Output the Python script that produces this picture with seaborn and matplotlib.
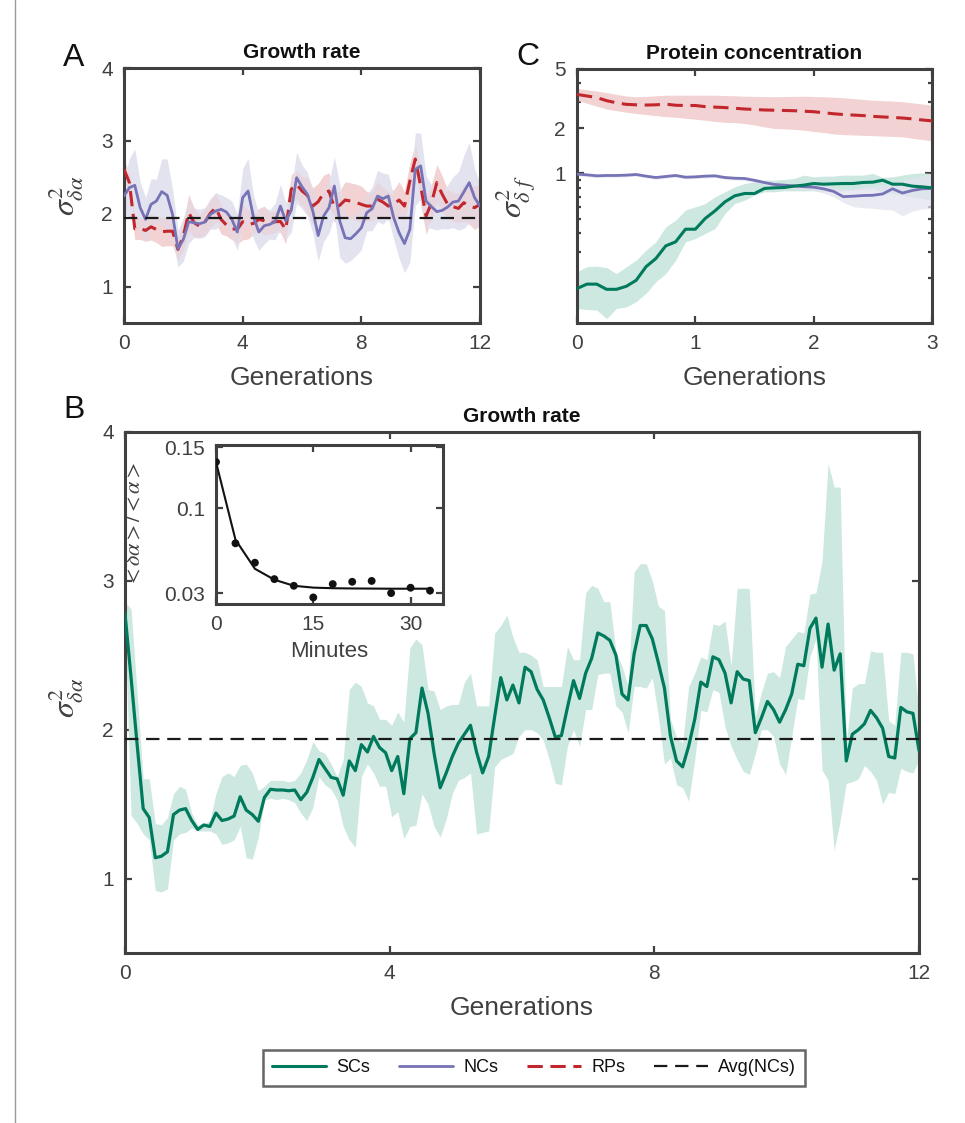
import numpy as np
import matplotlib
matplotlib.use('Agg')
import matplotlib.pyplot as plt
import seaborn as sns
from matplotlib.lines import Line2D
from matplotlib.ticker import FixedLocator, FixedFormatter, NullFormatter

# ---------------- data ----------------
AVG_NC = 1.94

# Panel B: growth-rate variance, SCs
b_gen = np.linspace(0, 12, 132)
b_sc_mean = [2.78, 2.35, 1.90,
             1.47, 1.41, 1.14, 1.15, 1.18, 1.43, 1.46, 1.47, 1.39, 1.33, 1.36, 1.35, 1.44, 1.39, 1.40, 1.42,
             1.55, 1.46, 1.43, 1.385, 1.545, 1.60, 1.595, 1.595, 1.59, 1.595, 1.53, 1.58, 1.68, 1.80, 1.74,
             1.68, 1.67, 1.56, 1.79, 1.725, 1.90, 1.85, 1.955, 1.88, 1.845,
             1.725, 1.82, 1.57, 1.94, 1.98, 2.28, 2.11, 1.84, 1.61, 1.71, 1.82, 1.91, 1.97, 2.03, 1.85, 1.71,
             1.82, 2.09, 2.35, 2.20, 2.30, 2.18, 2.42, 2.39, 2.27, 2.20, 2.08, 1.95, 1.96, 2.15, 2.33, 2.21,
             2.38, 2.48, 2.65, 2.63, 2.60, 2.50, 2.24, 2.20, 2.51, 2.70, 2.70, 2.61,
             2.45, 2.28, 1.955, 1.79, 1.75, 1.89, 2.07, 2.32, 2.29, 2.49, 2.47, 2.38, 2.18, 2.39, 2.34, 2.33,
             1.98, 2.08, 2.19, 2.135, 2.05, 2.135, 2.24, 2.44, 2.43, 2.68, 2.75, 2.42, 2.71, 2.40, 2.51, 1.79,
             1.97, 2.00, 2.04, 2.13, 2.08, 2.01, 1.82, 1.81, 2.15, 2.12, 2.11, 1.86]
b_sc_upper = [2.86, 2.81, 2.25,
              1.67, 1.67, 1.37, 1.36, 1.41, 1.57, 1.62, 1.60, 1.44, 1.36, 1.37, 1.39, 1.57, 1.685, 1.71, 1.685,
              1.76, 1.77, 1.71, 1.59, 1.62, 1.66, 1.66, 1.66, 1.65, 1.66, 1.71, 1.80, 1.92, 1.86, 1.84,
              1.77, 1.685, 1.80, 2.27, 2.32, 2.29, 2.18, 2.16, 2.07, 2.07,
              2.03, 2.12, 2.05, 2.55, 2.61, 2.57, 2.27, 2.26, 2.135, 2.16, 2.17, 2.17, 2.32, 2.38, 2.16, 2.16,
              2.16, 2.65, 2.70, 2.77, 2.62, 2.52, 2.52, 2.50, 2.47, 2.29, 2.29, 2.29, 2.29, 2.56, 2.47, 2.47,
              2.92, 2.97, 2.95, 2.86, 2.86, 2.52, 2.43, 2.29, 3.06, 3.115, 3.115, 3.0,
              2.83, 2.80, 2.07, 1.95, 1.91, 2.29, 2.38, 2.49, 2.47, 2.71, 2.70, 2.73, 2.43, 2.95, 2.95, 2.95,
              2.09, 2.25, 2.38, 2.39, 2.35, 2.56, 2.61, 2.66, 2.65, 2.91, 2.92, 3.13, 3.79, 3.63, 3.63, 1.91,
              2.28, 2.31, 2.31, 2.53, 2.52, 2.52, 2.06, 2.03, 2.52, 2.52, 2.51, 2.11]
b_sc_lower = [2.70, 1.425, 1.37,
              1.30, 1.26, 0.92, 0.91, 0.93, 1.26, 1.30, 1.31, 1.34, 1.32, 1.32, 1.32, 1.30, 1.23, 1.24, 1.26,
              1.35, 1.14, 1.13, 1.28, 1.53, 1.54, 1.53, 1.54, 1.53, 1.51, 1.44, 1.39, 1.48, 1.685, 1.63,
              1.60, 1.53, 1.35, 1.26, 1.21, 1.685, 1.77, 1.71, 1.62, 1.62,
              1.415, 1.45, 1.27, 1.35, 1.36, 1.57, 1.50, 1.35, 1.28, 1.40, 1.57, 1.66, 1.68, 1.71, 1.30, 1.31,
              1.32, 1.75, 1.80, 1.82, 1.84, 1.955, 2.00, 2.00, 1.98, 1.93, 1.80, 1.64, 1.63, 1.89, 2.00, 1.89,
              2.135, 2.135, 2.37, 2.38, 2.38, 2.16, 2.12, 1.98, 2.29, 2.29, 2.28, 2.35,
              2.09, 1.77, 1.81, 1.63, 1.61, 1.52, 1.80, 2.13, 2.12, 2.27, 2.25, 2.02, 1.89, 1.80, 1.72, 1.70,
              1.84, 2.00, 2.00, 1.955, 1.77, 1.70, 1.955, 2.21, 2.20, 2.49, 2.61, 1.73, 1.66, 1.19, 1.39, 1.64,
              1.65, 1.67, 1.76, 1.72, 1.66, 1.50, 1.58, 1.57, 1.74, 1.72, 1.71, 1.80]

# Panel A: growth-rate variance, NCs and RPs
a_gen = np.linspace(0, 12, 67)
a_nc_mean = [2.243, 2.358, 2.39, 2.083, 1.922, 2.128, 2.174, 2.303, 2.252, 1.99, 1.52, 1.647, 1.89, 1.876,
             1.862, 1.885, 1.99, 2.037, 2.06, 2.023, 1.922, 1.748, 2.22, 2.312, 1.954, 1.748, 1.835, 1.853,
             1.89, 2.105, 1.90, 2.046, 2.495, 2.37, 2.266, 2.037, 1.70, 1.968, 2.083, 2.38, 1.90, 1.67, 1.656,
             1.725, 1.807, 2.014, 2.069, 2.243, 2.206, 2.243, 1.945, 1.74, 1.59, 1.784, 2.61, 2.656, 2.174,
             2.096, 2.028, 2.046, 2.092, 2.16, 2.174, 2.298, 2.427, 2.22, 2.105]
a_nc_halfwidth = [0.25, 0.4, 0.5, 0.35, 0.3, 0.35, 0.3, 0.45, 0.5, 0.35, 0.25, 0.3, 0.3, 0.2, 0.2, 0.2, 0.2,
                  0.25, 0.2, 0.2, 0.25, 0.25, 0.4, 0.45, 0.3, 0.25, 0.25, 0.2, 0.25, 0.3, 0.25, 0.3, 0.35,
                  0.3, 0.3, 0.3, 0.35, 0.35, 0.35, 0.4, 0.5, 0.35, 0.3, 0.3, 0.3, 0.25, 0.3, 0.35, 0.35, 0.3,
                  0.3, 0.35, 0.4, 0.45, 0.5, 0.45, 0.35, 0.3, 0.25, 0.25, 0.3, 0.35, 0.4, 0.5, 0.55, 0.4, 0.3]
a_rp_mean = [2.61, 2.427, 1.794, 1.798, 1.77, 1.82, 1.784, 1.752, 1.76, 1.76, 1.51, 1.693, 2.014, 1.876,
             1.83, 1.885, 2.005, 2.083, 1.922, 1.844, 1.794, 1.784, 1.89, 1.853, 1.867, 1.922, 1.904, 1.876,
             1.89, 1.894, 1.784, 2.335, 2.404, 2.312, 2.252, 2.105, 2.165, 2.28, 2.312, 2.083, 2.115, 2.188,
             2.174, 2.156, 2.128, 2.105, 2.105, 2.197, 2.16, 2.105, 2.128, 2.188, 2.105, 2.45, 2.75, 2.38,
             1.968, 2.147, 2.427, 2.266, 2.128, 2.096, 2.073, 2.151, 2.105, 2.083, 2.128]
a_rp_halfwidth = [0.12, 0.15, 0.15, 0.15, 0.15, 0.18, 0.18, 0.2, 0.2, 0.2, 0.15, 0.2, 0.25, 0.2, 0.15, 0.18,
                  0.2, 0.2, 0.2, 0.15, 0.15, 0.2, 0.25, 0.2, 0.15, 0.15, 0.2, 0.15, 0.15, 0.15, 0.2, 0.2, 0.2,
                  0.2, 0.25, 0.25, 0.25, 0.25, 0.25, 0.2, 0.2, 0.25, 0.25, 0.25, 0.25, 0.2, 0.2, 0.25, 0.2,
                  0.2, 0.2, 0.25, 0.2, 0.25, 0.2, 0.25, 0.25, 0.25, 0.25, 0.25, 0.2, 0.2, 0.2, 0.25, 0.25,
                  0.3, 0.3]

# Panel C: protein concentration variance
c_gen = np.linspace(0, 3, 37)
c_sc_mean = [0.170, 0.182, 0.182, 0.168, 0.168, 0.176, 0.193, 0.238, 0.270, 0.328, 0.349, 0.424, 0.424,
             0.50, 0.563, 0.646, 0.709, 0.735, 0.735, 0.794, 0.802, 0.806, 0.823, 0.836, 0.857, 0.848,
             0.853, 0.857, 0.857, 0.871, 0.875, 0.902, 0.848, 0.848, 0.823, 0.814, 0.802]
c_sc_upper = [0.220, 0.238, 0.240, 0.235, 0.214, 0.238, 0.263, 0.307, 0.349, 0.440, 0.487, 0.569, 0.598,
              0.630, 0.698, 0.754, 0.814, 0.857, 0.880, 0.902, 0.902, 0.912, 0.926, 0.975, 0.950, 0.960,
              0.960, 0.975, 0.975, 0.975, 1.0, 0.940, 0.950, 0.975, 1.0, 1.01, 1.0]
c_sc_lower = [0.125, 0.123, 0.122, 0.107, 0.125, 0.128, 0.139, 0.158, 0.189, 0.214, 0.263, 0.349, 0.367,
              0.397, 0.429, 0.540, 0.630, 0.663, 0.716, 0.754, 0.754, 0.766, 0.766, 0.766, 0.766, 0.754,
              0.754, 0.766, 0.774, 0.782, 0.794, 0.754, 0.735, 0.716, 0.698, 0.680, 0.663]
c_nc_mean = [0.99, 0.98, 0.965, 0.97, 0.97, 0.975, 0.985, 0.96, 0.94, 0.955, 0.97, 0.945, 0.95, 0.96,
             0.965, 0.94, 0.93, 0.926, 0.90, 0.87, 0.845, 0.836, 0.826, 0.816, 0.81, 0.79, 0.76, 0.70,
             0.705, 0.712, 0.715, 0.73, 0.79, 0.74, 0.77, 0.79, 0.794]
c_nc_upper = [1.01, 1.0, 0.99, 0.99, 0.99, 1.0, 1.0, 0.98, 0.96, 0.975, 0.99, 0.965, 0.97, 0.98, 0.985,
              0.96, 0.95, 0.945, 0.925, 0.90, 0.875, 0.865, 0.855, 0.85, 0.85, 0.84, 0.80, 0.79, 0.79,
              0.81, 0.82, 0.84, 0.86, 0.90, 0.93, 0.97, 1.0]
c_nc_lower = [0.965, 0.955, 0.94, 0.945, 0.945, 0.95, 0.96, 0.935, 0.915, 0.93, 0.945, 0.92, 0.925, 0.935,
              0.94, 0.915, 0.905, 0.90, 0.87, 0.84, 0.815, 0.80, 0.79, 0.78, 0.77, 0.74, 0.70, 0.64, 0.60,
              0.59, 0.585, 0.575, 0.57, 0.52, 0.56, 0.58, 0.585]
c_rp_mean = [3.38, 3.30, 3.22, 3.07, 2.97, 2.90, 2.88, 2.87, 2.88, 2.91, 2.86, 2.85, 2.85, 2.80, 2.78,
             2.76, 2.73, 2.70, 2.68, 2.66, 2.65, 2.64, 2.63, 2.61, 2.59, 2.55, 2.51, 2.48, 2.46, 2.44,
             2.41, 2.39, 2.37, 2.35, 2.32, 2.28, 2.25]
c_rp_upper = [3.70, 3.63, 3.56, 3.48, 3.38, 3.30, 3.26, 3.28, 3.31, 3.34, 3.34, 3.34, 3.34, 3.34, 3.34,
              3.32, 3.31, 3.29, 3.28, 3.27, 3.26, 3.27, 3.28, 3.29, 3.27, 3.26, 3.24, 3.21, 3.17, 3.13,
              3.09, 3.07, 3.05, 3.02, 2.97, 2.92, 2.86]
c_rp_lower = [3.09, 2.95, 2.82, 2.70, 2.63, 2.57, 2.52, 2.48, 2.44, 2.40, 2.38, 2.34, 2.31, 2.27, 2.23,
              2.20, 2.19, 2.16, 2.11, 2.05, 2.00, 1.99, 1.97, 1.95, 1.91, 1.88, 1.84, 1.82, 1.81, 1.80,
              1.79, 1.78, 1.77, 1.76, 1.72, 1.69, 1.65]

# Inset: CV vs imaging interval
inset_minutes = [0, 3, 6, 9, 12, 15, 18, 21, 24, 27, 30, 33]
inset_cv = [0.138, 0.071, 0.055, 0.0415, 0.036, 0.0264, 0.0374, 0.0393, 0.040, 0.030, 0.0344, 0.032]
inset_fit = [0.138, 0.074, 0.050, 0.041, 0.036, 0.0345, 0.034, 0.0338, 0.0337, 0.0336, 0.0336, 0.0336]

legend_labels = ['SCs', 'NCs', 'RPs', 'Avg(NCs)']

# ---------------- style ----------------
GREEN = '#007a5c'
GREEN_BAND = '#cde8e0'
PURPLE = '#7673b6'
PURPLE_BAND = '#e3e3f0'
RED = '#c1272d'
RED_BAND = '#f2d2d2'
FRAME = '#404040'

sns.set_theme(style='white')
plt.rcParams['font.family'] = ['Liberation Sans', 'DejaVu Sans']
plt.rcParams['mathtext.fontset'] = 'stix'

W, H = 965, 1123
fig = plt.figure(figsize=(W / 100, H / 100), dpi=100)


def rect(x0, y0, x1, y1):
    return [x0 / W, 1 - y1 / H, (x1 - x0) / W, (y1 - y0) / H]


def style(ax, size=15):
    for s in ax.spines.values():
        s.set_color(FRAME)
        s.set_linewidth(2.2)
        s.set_visible(True)
    ax.tick_params(which='both', direction='in', top=True, right=True, bottom=True, left=True,
                   colors=FRAME, labelcolor=FRAME, labelsize=size, width=1.6, pad=8)
    ax.tick_params(which='major', length=5)
    ax.tick_params(which='minor', length=3)
    ax.grid(False)


def band(ax, x, lo, hi, color):
    ax.fill_between(x, lo, hi, color=color, linewidth=0, zorder=1)


def line(ax, x, y, color, lw=2.0, ls='-', z=3):
    sns.lineplot(x=x, y=y, ax=ax, color=color, linewidth=lw, linestyle=ls, errorbar=None,
                 sort=False, zorder=z)


TITLE_KW = dict(fontsize=15, fontweight='bold', color='#111111', pad=7)

# ---------------- Panel A ----------------
axA = fig.add_axes(rect(124, 68, 480, 323))
a_nc = np.array(a_nc_mean)
a_rp = np.array(a_rp_mean)
a_nc_hw = np.array(a_nc_halfwidth)
a_rp_hw = np.array(a_rp_halfwidth)
band(axA, a_gen, a_rp - a_rp_hw, a_rp + a_rp_hw, RED_BAND)
band(axA, a_gen, a_nc - a_nc_hw, a_nc + a_nc_hw, PURPLE_BAND)
axA.fill_between(a_gen, np.maximum(a_rp - a_rp_hw, a_nc - a_nc_hw),
                 np.minimum(a_rp + a_rp_hw, a_nc + a_nc_hw),
                 color='#e8d6df', linewidth=0, zorder=1.5)
line(axA, a_gen, a_rp_mean, RED, lw=2.2, ls=(0, (5, 2.5)))
line(axA, a_gen, a_nc_mean, PURPLE, lw=2.0)
axA.axhline(AVG_NC, color='#1a1a1a', lw=1.6, ls=(0, (6, 3.5)), zorder=4)
axA.set_xlim(0, 12)
axA.set_ylim(0.5, 4)
axA.set_xticks([0, 4, 8, 12])
axA.set_yticks([1, 2, 3, 4])
style(axA)
axA.set_xlabel('Generations', fontsize=19, color=FRAME, labelpad=9)
axA.set_ylabel(r'$\sigma^2_{\delta\alpha}$', fontsize=23, color=FRAME)
axA.yaxis.set_label_coords(-0.11, 0.5)
axA.set_title('Growth rate', **TITLE_KW)

# ---------------- Panel C ----------------
axC = fig.add_axes(rect(577, 69, 932, 323))
band(axC, c_gen, c_rp_lower, c_rp_upper, RED_BAND)
band(axC, c_gen, c_sc_lower, c_sc_upper, GREEN_BAND)
axC.fill_between(c_gen, c_nc_lower, c_nc_upper, color=PURPLE_BAND, alpha=0.75, linewidth=0, zorder=1.2)
line(axC, c_gen, c_rp_mean, RED, lw=2.2, ls=(0, (5, 2.5)))
line(axC, c_gen, c_nc_mean, PURPLE, lw=2.0)
line(axC, c_gen, c_sc_mean, GREEN, lw=2.2)
axC.set_yscale('log')
axC.set_xlim(0, 3)
axC.set_ylim(0.1, 5)
axC.set_xticks([0, 1, 2, 3])
axC.yaxis.set_major_locator(FixedLocator([1, 2, 5]))
axC.yaxis.set_major_formatter(FixedFormatter(['1', '2', '5']))
axC.yaxis.set_minor_locator(FixedLocator([0.2, 0.3, 0.4, 0.5, 0.6, 0.7, 0.8, 0.9, 3, 4]))
axC.yaxis.set_minor_formatter(NullFormatter())
style(axC)
axC.set_xlabel('Generations', fontsize=19, color=FRAME, labelpad=9)
axC.set_ylabel(r'$\sigma^2_{\delta\ f}$', fontsize=23, color=FRAME)
axC.yaxis.set_label_coords(-0.11, 0.5)
axC.set_title('Protein concentration', **TITLE_KW)

# ---------------- Panel B ----------------
axB = fig.add_axes(rect(125, 432, 919, 953))
band(axB, b_gen, b_sc_lower, b_sc_upper, GREEN_BAND)
line(axB, b_gen, b_sc_mean, GREEN, lw=2.3)
axB.axhline(AVG_NC, color='#1a1a1a', lw=1.6, ls=(0, (6, 3.5)), zorder=4)
axB.set_xlim(0, 12)
axB.set_ylim(0.5, 4)
axB.set_xticks([0, 4, 8, 12])
axB.set_yticks([1, 2, 3, 4])
style(axB)
axB.set_xlabel('Generations', fontsize=19, color=FRAME, labelpad=9)
axB.set_ylabel(r'$\sigma^2_{\delta\alpha}$', fontsize=23, color=FRAME)
axB.yaxis.set_label_coords(-0.05, 0.49)
axB.set_title('Growth rate', **TITLE_KW)

# ---------------- Inset ----------------
axI = fig.add_axes(rect(216, 445, 443, 604))
axI.set_facecolor('white')
line(axI, inset_minutes, inset_fit, '#111111', lw=1.5)
sns.scatterplot(x=inset_minutes, y=inset_cv, ax=axI, color='#111111', s=32, edgecolor='none', zorder=4)
axI.set_xlim(0, 35)
axI.set_ylim(0.021, 0.152)
axI.set_xticks([0, 15, 30])
axI.set_yticks([0.03, 0.1, 0.15])
axI.set_yticklabels(['0.03', '0.1', '0.15'])
style(axI, size=15)
axI.set_xlabel('Minutes', fontsize=16, color=FRAME, labelpad=5)
axI.set_ylabel(r'$<\delta\alpha>/<\alpha>$', fontsize=16, color=FRAME)
axI.yaxis.set_label_coords(-0.31, 0.5)

# ---------------- panel letters ----------------
fig.text(74 / W, 1 - 58 / H, 'A', fontsize=23, ha='center', va='center', color='#111111')
fig.text(528 / W, 1 - 57 / H, 'C', fontsize=23, ha='center', va='center', color='#111111')
fig.text(74 / W, 1 - 410 / H, 'B', fontsize=23, ha='center', va='center', color='#111111')

# ---------------- legend ----------------
handles = [Line2D([], [], color=GREEN, lw=2.2),
           Line2D([], [], color=PURPLE, lw=2.0),
           Line2D([], [], color=RED, lw=2.2, ls=(0, (5, 2.5))),
           Line2D([], [], color='#1a1a1a', lw=1.6, ls=(0, (6, 3.5)))]
leg = fig.legend(handles, legend_labels, ncol=4, loc='center',
                 bbox_to_anchor=((262 + 806) / 2 / W, 1 - 1068 / H),
                 fontsize=13, frameon=True, fancybox=False, edgecolor=FRAME,
                 handlelength=3.0, columnspacing=1.6, handletextpad=0.55, borderpad=0.5)
leg.get_frame().set_linewidth(1.8)
for t in leg.get_texts():
    t.set_color('#111111')

# left border line of the figure
fig.add_artist(Line2D([15 / W, 15 / W], [0, 1], color='#9a9a9a', lw=1.0))

fig.savefig('out.png', dpi=100)
